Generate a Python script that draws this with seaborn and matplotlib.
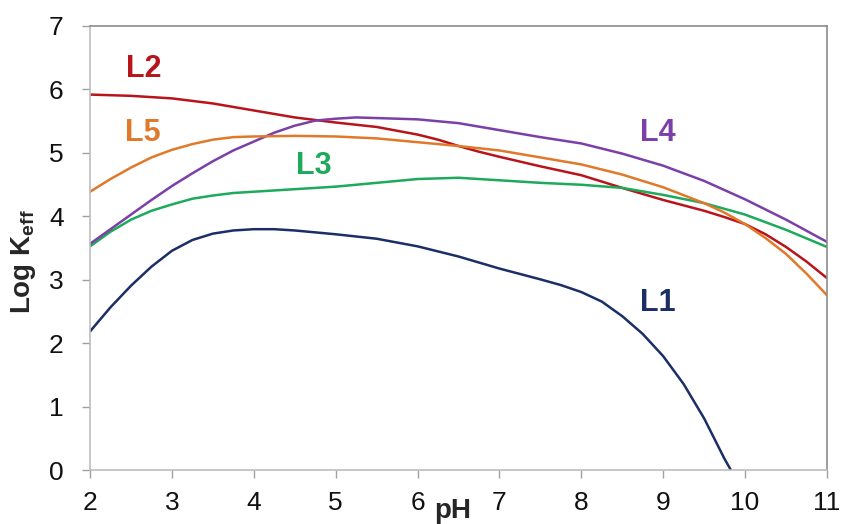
import numpy as np
import pandas as pd
import matplotlib
matplotlib.use("Agg")
import matplotlib.pyplot as plt
import seaborn as sns

# ---- data ----
ph_L1 = [2, 2.25, 2.5, 2.75, 3, 3.25, 3.5, 3.75, 4, 4.25, 4.5, 5, 5.5, 6, 6.5, 7, 7.5, 7.75, 8, 8.25, 8.5, 8.75, 9, 9.25, 9.5, 9.75, 9.83]
logk_L1 = [2.19, 2.57, 2.91, 3.21, 3.46, 3.63, 3.73, 3.78, 3.80, 3.80, 3.78, 3.72, 3.65, 3.53, 3.37, 3.18, 3.01, 2.92, 2.81, 2.66, 2.43, 2.15, 1.80, 1.36, 0.82, 0.18, 0.0]

ph_L2 = [2, 2.5, 3, 3.5, 4, 4.5, 5, 5.5, 6, 6.25, 6.5, 6.75, 7, 7.5, 8, 8.5, 9, 9.5, 9.75, 10, 10.25, 10.5, 10.75, 11]
logk_L2 = [5.92, 5.90, 5.86, 5.78, 5.67, 5.56, 5.48, 5.41, 5.29, 5.21, 5.11, 5.02, 4.94, 4.79, 4.65, 4.45, 4.26, 4.09, 3.99, 3.88, 3.72, 3.52, 3.29, 3.03]

ph_L3 = [2, 2.25, 2.5, 2.75, 3, 3.25, 3.5, 3.75, 4, 4.5, 5, 5.5, 6, 6.5, 7, 7.5, 8, 8.5, 9, 9.5, 10, 10.5, 11]
logk_L3 = [3.53, 3.76, 3.95, 4.09, 4.19, 4.28, 4.33, 4.37, 4.39, 4.43, 4.47, 4.53, 4.59, 4.61, 4.57, 4.53, 4.50, 4.45, 4.34, 4.21, 4.03, 3.79, 3.52]

ph_L4 = [2, 2.25, 2.5, 2.75, 3, 3.25, 3.5, 3.75, 4, 4.25, 4.5, 4.75, 5, 5.25, 5.5, 6, 6.5, 7, 7.5, 8, 8.5, 9, 9.5, 10, 10.5, 11]
logk_L4 = [3.57, 3.80, 4.03, 4.26, 4.48, 4.68, 4.87, 5.04, 5.18, 5.32, 5.43, 5.51, 5.54, 5.56, 5.55, 5.53, 5.47, 5.36, 5.25, 5.15, 4.99, 4.80, 4.56, 4.27, 3.95, 3.60]

ph_L5 = [2, 2.25, 2.5, 2.75, 3, 3.25, 3.5, 3.75, 4, 4.5, 5, 5.5, 6, 6.5, 7, 7.5, 8, 8.5, 9, 9.5, 9.75, 10, 10.25, 10.5, 10.75, 11]
logk_L5 = [4.39, 4.59, 4.77, 4.93, 5.05, 5.14, 5.21, 5.25, 5.26, 5.27, 5.26, 5.23, 5.17, 5.11, 5.04, 4.93, 4.82, 4.66, 4.46, 4.21, 4.06, 3.88, 3.66, 3.41, 3.10, 2.76]

series_names = ["L1", "L2", "L3", "L4", "L5"]
colors = {"L1": "#1B2F66", "L2": "#B8141B", "L3": "#1DAA5A", "L4": "#7B3FA8", "L5": "#E0792A"}
label_pos = {"L1": (8.93, 2.63), "L2": (2.65, 6.33), "L3": (4.73, 4.80), "L4": (8.94, 5.31), "L5": (2.65, 5.31)}

x_ticks = [2, 3, 4, 5, 6, 7, 8, 9, 10, 11]
y_ticks = [0, 1, 2, 3, 4, 5, 6, 7]

frames = []
for name, xs, ys in [("L1", ph_L1, logk_L1), ("L2", ph_L2, logk_L2), ("L3", ph_L3, logk_L3),
                     ("L4", ph_L4, logk_L4), ("L5", ph_L5, logk_L5)]:
    frames.append(pd.DataFrame({"pH": xs, "logK": ys, "series": name}))
df = pd.concat(frames, ignore_index=True)

sns.set_theme(style="white")
plt.rcParams["font.family"] = ["Liberation Sans", "DejaVu Sans"]
plt.rcParams["mathtext.fontset"] = "custom"
plt.rcParams["mathtext.rm"] = "Liberation Sans"
plt.rcParams["mathtext.bf"] = "Liberation Sans:bold"

fig = plt.figure(figsize=(8.43, 5.24), dpi=100)
ax = fig.add_axes([0.1068, 0.1021, 0.8742, 0.8483])

sns.lineplot(data=df, x="pH", y="logK", hue="series", palette=colors, sort=False,
             estimator=None, linewidth=1.8, legend=False, ax=ax)
for line in ax.get_lines():
    line.set_solid_joinstyle("round")

ax.set_xlim(2, 11)
ax.set_ylim(0, 7)
ax.set_xticks(x_ticks)
ax.set_yticks(y_ticks)
ax.tick_params(axis="both", which="major", direction="out", length=6, width=1,
               color="#A0A0A0", labelsize=19, labelcolor="#111111", bottom=True, left=True)
ax.tick_params(axis="x", pad=9)
ax.tick_params(axis="y", pad=13)

for side in ["left", "bottom"]:
    ax.spines[side].set_color("#BDBDBD")
    ax.spines[side].set_linewidth(1.2)
for side in ["top", "right"]:
    ax.spines[side].set_color("#8C8C8C")
    ax.spines[side].set_linewidth(1.2)

ax.set_xlabel("pH", fontsize=20, fontweight="bold")
ax.xaxis.set_label_coords(0.492, -0.062)
ax.set_ylabel(r"Log K$_{\mathbf{eff}}$", fontsize=20, fontweight="bold")
ax.yaxis.set_label_coords(-0.07, 0.47)

for name in series_names:
    x, y = label_pos[name]
    ax.text(x, y, name, color=colors[name], fontsize=22, fontweight="bold",
            ha="center", va="center")

fig.savefig("out.png", dpi=100)
